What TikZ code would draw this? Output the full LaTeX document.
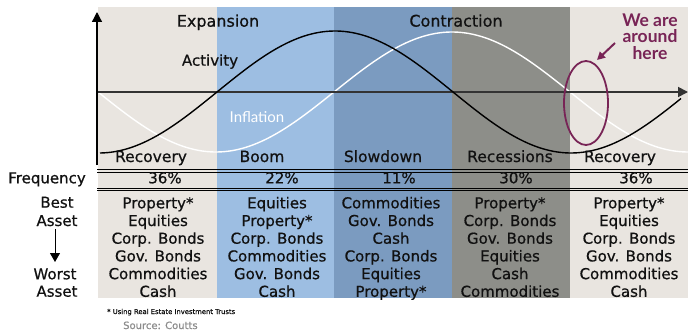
\documentclass[tikz,border=0pt]{standalone}
\usepackage{fontspec}
\setmainfont{DejaVu Sans}[FakeBold=0.6]
\newfontfamily\latofont{Lato}
\usetikzlibrary{arrows.meta,shapes.geometric}
\definecolor{recov}{HTML}{E9E5E0}
\definecolor{boom}{HTML}{9DBEE2}
\definecolor{slow}{HTML}{7B9BC0}
\definecolor{reces}{HTML}{8D8E89}
\definecolor{maroon}{HTML}{782456}
\definecolor{ink}{HTML}{111111}
\definecolor{axisgray}{HTML}{333333}
\tikzset{
  txt/.style={text=ink, anchor=base, inner sep=0pt},
  phase/.style={txt, font=\fontsize{15.5}{18}\selectfont},
  head/.style={txt, font=\fontsize{16}{19}\selectfont},
  cell/.style={txt, font=\fontsize{15}{18}\selectfont},
  note/.style={text=maroon, anchor=base, inner sep=0pt, font=\latofont\bfseries\fontsize{17.5}{20}\selectfont},
  rule/.style={line width=0.9pt, black},
  tip/.style={-{Triangle[length=10pt,width=10pt]}},
}
\begin{document}
\begin{tikzpicture}[x=1pt,y=-1pt]
\useasboundingbox (0,0) rectangle (688,334);
\fill[white] (0,0) rectangle (688,334);

% phase bands
\fill[recov] (98,7) rectangle (217,298);
\fill[boom]  (217,7) rectangle (334,298);
\fill[slow]  (334,7) rectangle (452,298);
\fill[reces] (452,7) rectangle (570,298);
\fill[recov] (570,7) rectangle (688,298);

% inflation (white) curve; one cycle spans 472 units (0.76271 deg per unit)
\draw[white, line width=1.4pt] plot[domain=98:688, samples=160, smooth]
  (\x, {92+60*sin(0.76271*(\x-98))});

% axes
\coordinate (o) at (97,92);
\coordinate (xend) at (688,92);
\coordinate (ybot) at (97,165);
\coordinate (ytop) at (97,12);
\draw[axisgray, line width=1.8pt, tip] (o) -- (xend);
\draw[black, line width=1.3pt, tip] (ybot) -- (ytop);

% activity (black) curve
\draw[black, line width=1.4pt] plot[domain=100:681, samples=160, smooth]
  (\x, {92-61*sin(0.76271*(\x-217))});

% cycle headings
\node[head] (exp) at (218,26.7) {Expansion};
\node[head] (con) at (456,26.6) {Contraction};
\node[cell] (act) at (210,65.7) {Activity};
\node[anchor=base, inner sep=0pt, text=white, font=\latofont\fontsize{15}{18}\selectfont] (inf) at (257,122.7) {Inflation};

% "we are around here" marker
\node[note] (we1) at (650,26.7) {We are};
\node[note] (we2) at (650,42.7) {around};
\node[note] (we3) at (650,60) {here};
\node[draw=maroon, line width=1.8pt, ellipse, minimum width=44pt, minimum height=84pt, inner sep=0pt] (ring) at (586,103) {};
\coordinate (ptr) at (615,43);
\coordinate (ptrtip) at (597,60);
\draw[maroon, line width=2pt, -{Triangle[length=8pt,width=8pt]}] (ptr) -- (ptrtip);

% phase names
\node[phase] (p1) at (151,162) {Recovery};
\node[phase] (p2) at (262,162) {Boom};
\node[phase] (p3) at (383,162) {Slowdown};
\node[phase] (p4) at (510,162) {Recessions};
\node[phase] (p5) at (620,162) {Recovery};

% table rules
\coordinate (r1a) at (97,169.5);   \coordinate (r1b) at (688,169.5);
\coordinate (r2a) at (97,172);     \coordinate (r2b) at (688,172);
\coordinate (r3a) at (97,188.3);   \coordinate (r3b) at (688,188.3);
\coordinate (r4a) at (97,190.8);   \coordinate (r4b) at (688,190.8);
\draw[rule] (r1a) -- (r1b);
\draw[rule] (r2a) -- (r2b);
\draw[rule] (r3a) -- (r3b);
\draw[rule] (r4a) -- (r4b);

% frequency row
\node[cell] (fq) at (47,183.3) {Frequency};
\node[cell] (f1) at (165,183.3) {36\%};
\node[cell] (f2) at (282,183.3) {22\%};
\node[cell] (f3) at (399,183.3) {11\%};
\node[cell] (f4) at (516,183.3) {30\%};
\node[cell] (f5) at (636,183.3) {36\%};

% ranking legend
\node[cell] (best) at (57,207.7) {Best};
\node[cell] (bass) at (57,226) {Asset};
\node[cell] (worst) at (55,279.3) {Worst};
\node[cell] (wass) at (57,296.7) {Asset};
\coordinate (ar1) at (55,229);
\coordinate (ar2) at (55,262);
\draw[black, line width=0.9pt, -{Triangle[length=9pt,width=10pt]}] (ar1) -- (ar2);

% asset rankings per phase
\foreach \c/\xc/\lst in {
  1/158/{Property*,Equities,Corp. Bonds,Gov. Bonds,Commodities,Cash},
  2/277/{Equities,Property*,Corp. Bonds,Commodities,Gov. Bonds,Cash},
  3/391/{Commodities,Gov. Bonds,Cash,Corp. Bonds,Equities,Property*},
  4/510/{Property*,Corp. Bonds,Gov. Bonds,Equities,Cash,Commodities},
  5/629/{Property*,Equities,Corp. Bonds,Gov. Bonds,Commodities,Cash}}{
  \foreach \t [count=\r from 0] in \lst {
    \node[cell] (as-\c-\r) at (\xc, {208.3+17.7*\r}) {\t};
  }
}

% footnotes
\node[anchor=base west, inner sep=0pt, text=ink, font=\fontsize{6.8}{8}\selectfont] (fn) at (107,314) {* Using Real Estate Investment Trusts};
\node[anchor=base west, inner sep=0pt, text=gray!90, font=\fontsize{10}{12}\selectfont] (src) at (123,329) {Source: Coutts};
\end{tikzpicture}
\end{document}
